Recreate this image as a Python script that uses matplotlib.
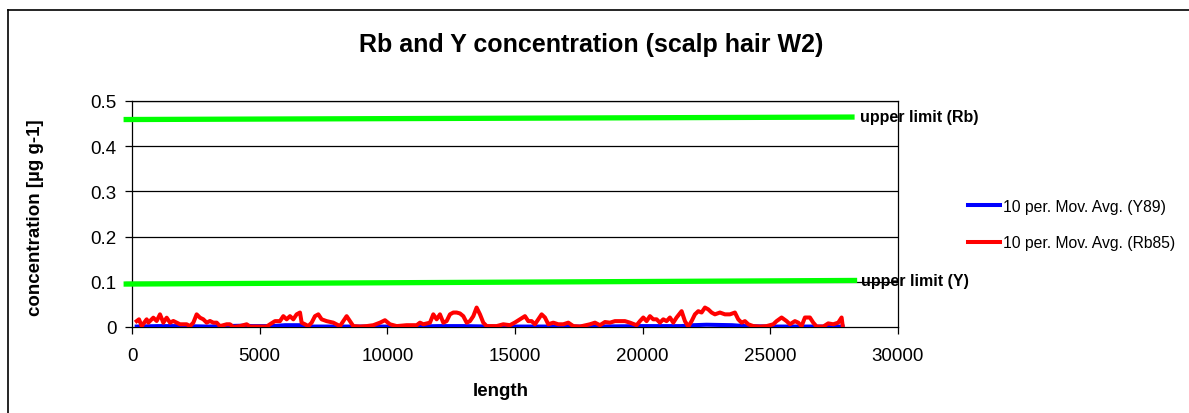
import matplotlib
matplotlib.use("Agg")
import matplotlib.pyplot as plt
from matplotlib.lines import Line2D

plt.rcParams['font.family'] = ['Liberation Sans', 'DejaVu Sans']

# ---------------- data ----------------
rb_x = [183, 274, 379, 574, 640, 835, 966, 1096, 1227, 1358, 1488, 1619, 1749, 1880,
        2141, 2271, 2402, 2532, 2663, 2793, 2924, 3054, 3185, 3316, 3446, 3707, 3838,
        3968, 4229, 4360, 4490, 4621, 5274, 5404, 5600, 5796, 5926, 6057, 6187, 6318,
        6448, 6579, 6644, 6775, 6905, 7036, 7166, 7297, 7427, 7623, 7884, 8145, 8276,
        8406, 8537, 8667, 8929, 9190, 9451, 9712, 9907, 10103, 10365, 10756, 11148,
        11278, 11409, 11670, 11800, 11931, 12061, 12192, 12322, 12453, 12584, 12714,
        12844, 12975, 13106, 13236, 13367, 13497, 13628, 13758, 13889, 14280, 14541,
        14802, 14998, 15194, 15390, 15520, 15651, 15781, 15912, 16043, 16173, 16304,
        16499, 16695, 16891, 17087, 17283, 17544, 17935, 18131, 18327, 18523, 18718,
        18914, 19110, 19306, 19502, 19763, 19893, 20024, 20154, 20285, 20415, 20546,
        20676, 20807, 20937, 21068, 21199, 21329, 21525, 21655, 21786, 21917, 22047,
        22178, 22308, 22439, 22569, 22700, 22830, 23026, 23222, 23418, 23613, 23744,
        23874, 24005, 24136, 24331, 24592, 24854, 25115, 25245, 25441, 25637, 25767,
        25963, 26094, 26224, 26355, 26550, 26681, 26812, 27073, 27268, 27464, 27660,
        27791, 27830]
rb_y = [0.013, 0.017, 0.002, 0.017, 0.0096, 0.0206, 0.0133, 0.028, 0.0096, 0.0206,
        0.0096, 0.0133, 0.0096, 0.006, 0.006, 0.002, 0.0096, 0.028, 0.0206, 0.017,
        0.0096, 0.0133, 0.0096, 0.0096, 0.002, 0.006, 0.006, 0.0, 0.002, 0.004, 0.006,
        0.001, 0.001, 0.006, 0.013, 0.013, 0.024, 0.017, 0.024, 0.017, 0.028, 0.032,
        0.0096, 0.006, 0.002, 0.0096, 0.024, 0.028, 0.017, 0.013, 0.0096, 0.002, 0.013,
        0.024, 0.013, 0.002, 0.001, 0.002, 0.004, 0.0096, 0.015, 0.006, 0.002, 0.004,
        0.004, 0.0096, 0.006, 0.0096, 0.028, 0.017, 0.028, 0.0096, 0.013, 0.028, 0.032,
        0.032, 0.030, 0.024, 0.0096, 0.013, 0.024, 0.043, 0.028, 0.0096, 0.002, 0.002,
        0.006, 0.004, 0.010, 0.017, 0.024, 0.013, 0.013, 0.006, 0.017, 0.028, 0.021,
        0.006, 0.0096, 0.006, 0.006, 0.0096, 0.002, 0.001, 0.006, 0.0096, 0.004, 0.011,
        0.0096, 0.013, 0.013, 0.013, 0.0096, 0.004, 0.013, 0.021, 0.013, 0.024, 0.017,
        0.017, 0.0096, 0.017, 0.013, 0.021, 0.0096, 0.021, 0.035, 0.013, 0.001, 0.013,
        0.028, 0.035, 0.032, 0.043, 0.039, 0.032, 0.028, 0.032, 0.028, 0.028, 0.032,
        0.017, 0.0096, 0.013, 0.006, 0.002, 0.001, 0.002, 0.006, 0.013, 0.021, 0.013,
        0.006, 0.013, 0.0096, 0.002, 0.021, 0.021, 0.0096, 0.001, 0.001, 0.008, 0.006,
        0.0096, 0.021, 0.004]

y_x = [183, 1000, 2000, 3000, 4400, 4700, 5500, 6000, 6600, 7000, 9000, 11000, 12000,
       13000, 14000, 16000, 18000, 20000, 21500, 22000, 22500, 23500, 24000, 25000,
       27830]
y_y = [0.001, 0.002, 0.002, 0.001, 0.003, 0.002, 0.002, 0.004, 0.004, 0.001, 0.001,
       0.001, 0.002, 0.002, 0.001, 0.001, 0.001, 0.002, 0.002, 0.004, 0.005, 0.004,
       0.002, 0.001, 0.001]

rb_limit_x = [-330, 28300]
rb_limit_y = [0.459, 0.4645]
y_limit_x = [-330, 28400]
y_limit_y = [0.095, 0.103]

x_ticks = [0, 5000, 10000, 15000, 20000, 25000, 30000]
y_ticks = [0, 0.1, 0.2, 0.3, 0.4, 0.5]
y_tick_labels = ['0', '0.1', '0.2', '0.3', '0.4', '0.5']

title = 'Rb and Y concentration (scalp hair W2)'
xlabel = 'length'
ylabel = 'concentration [µg g-1]'
label_y89 = '10 per. Mov. Avg. (Y89)'
label_rb85 = '10 per. Mov. Avg. (Rb85)'

# ---------------- figure ----------------
W, H = 1189, 414
fig = plt.figure(figsize=(W / 100, H / 100), dpi=100)
ax = fig.add_axes([132 / W, 1 - 328 / H, (898 - 132) / W, (328 - 102) / H])

ax.set_xlim(0, 30000)
ax.set_ylim(0, 0.5)

for v in y_ticks[1:]:
    ax.axhline(v, color='black', lw=0.9, zorder=1)

green = '#00ff00'
ax.plot(rb_limit_x, rb_limit_y, color=green, lw=3.8, solid_capstyle='butt',
        clip_on=False, zorder=3)
ax.plot(y_limit_x, y_limit_y, color=green, lw=3.8, solid_capstyle='butt',
        clip_on=False, zorder=3)

ax.plot(y_x, y_y, color='#0000ff', lw=2.9, zorder=4, label=label_y89,
        solid_joinstyle='round')
ax.plot(rb_x, rb_y, color='#ff0000', lw=2.9, zorder=5, label=label_rb85,
        solid_joinstyle='round')

ax.text(28520, 0.4655, 'upper limit (Rb)', fontsize=11.5, fontweight='bold',
        va='center', ha='left', clip_on=False)
ax.text(28560, 0.103, 'upper limit (Y)', fontsize=11.5, fontweight='bold',
        va='center', ha='left', clip_on=False)

for s in ['left', 'right', 'bottom', 'top']:
    ax.spines[s].set_color('black')
    ax.spines[s].set_linewidth(0.9)

ax.set_xticks(x_ticks)
ax.set_xticklabels([str(t) for t in x_ticks])
ax.set_yticks(y_ticks)
ax.set_yticklabels(y_tick_labels)
ax.tick_params(axis='both', direction='out', length=5, width=0.9, colors='black',
               labelsize=13.5)
ax.tick_params(axis='x', pad=9.5)
ax.tick_params(axis='y', pad=6)

fig.text(591 / W, 1 - 45 / H, title, fontsize=18, fontweight='bold',
         ha='center', va='center')
fig.text(501 / W, 1 - 392 / H, xlabel, fontsize=13.5, fontweight='bold',
         ha='center', va='center')
fig.text(36 / W, 1 - 218 / H, ylabel, fontsize=13.5, fontweight='bold',
         ha='center', va='center', rotation=90)

h1 = Line2D([], [], color='#0000ff', lw=2.9)
h2 = Line2D([], [], color='#ff0000', lw=2.9)
leg = fig.legend([h1, h2], [label_y89, label_rb85], loc='center left',
                 bbox_to_anchor=(968 / W, 1 - 225.5 / H), frameon=False,
                 fontsize=11.3, handlelength=2.05, handletextpad=0.2,
                 labelspacing=1.35, borderpad=0, borderaxespad=0)

# outer chart border (top and left visible)
fig.add_artist(Line2D([8 / W, 8 / W], [0, 1 - 11 / H], color='black', lw=1.2,
                      transform=fig.transFigure))
fig.add_artist(Line2D([8 / W, 1], [1 - 11 / H, 1 - 11 / H], color='black', lw=1.2,
                      transform=fig.transFigure))

fig.savefig('out.png', dpi=100)
